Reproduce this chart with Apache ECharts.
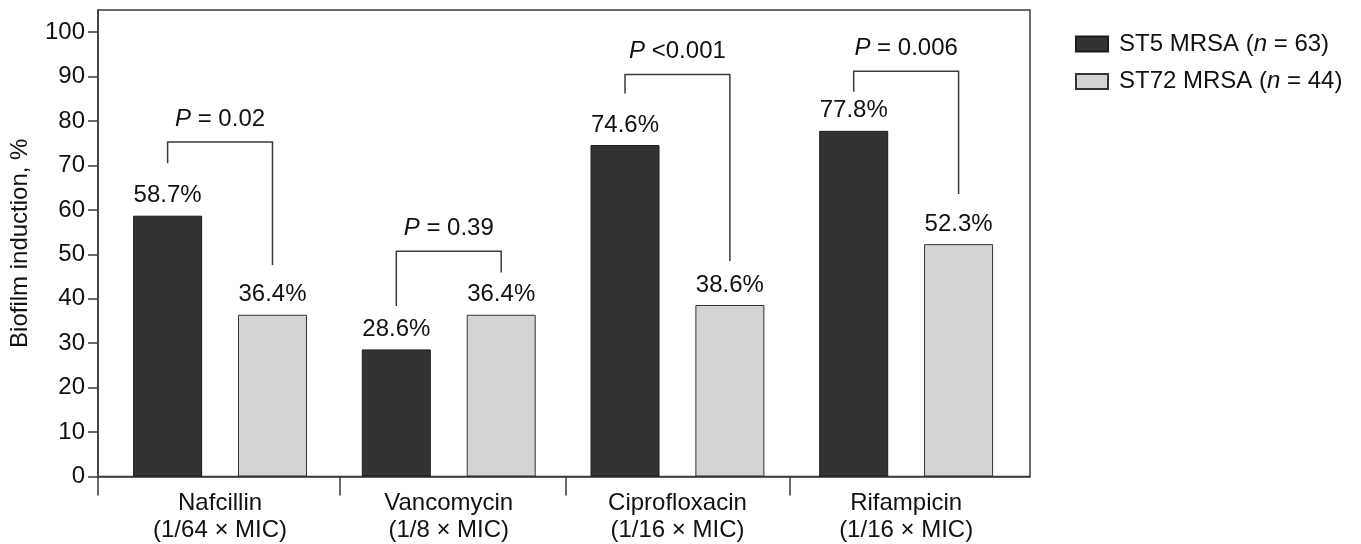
<!DOCTYPE html>
<html>
<head>
<meta charset="utf-8">
<script src="https://cdn.jsdelivr.net/npm/echarts@6/dist/echarts.min.js"></script>
<style>
html,body{margin:0;padding:0;background:#fff;}
#chart{width:1361px;height:544px;}
</style>
</head>
<body>
<div id="chart"></div>
<script>
// ---- data ----
const categories = ['Nafcillin\n(1/64 × MIC)', 'Vancomycin\n(1/8 × MIC)', 'Ciprofloxacin\n(1/16 × MIC)', 'Rifampicin\n(1/16 × MIC)'];
const seriesNames = ['ST5 MRSA', 'ST72 MRSA'];
const nValues = [63, 44];
const st5Values = [58.7, 28.6, 74.6, 77.8];
const st72Values = [36.4, 36.4, 38.6, 52.3];
const yTicks = [0, 10, 20, 30, 40, 50, 60, 70, 80, 90, 100];
// category-boundary tick positions (in category units)
const xTickPositions = [-0.538, 0.52, 1.51, 2.49];
// significance brackets: bracket top, left leg bottom, right leg bottom (per category)
const bracketTop = [75.3, 50.7, 90.5, 91.2];
const bracketLeftEnd = [70.5, 38.4, 86.2, 86.6];
const bracketRightEnd = [47.6, 45.9, 48.5, 63.6];
const pLabels = ['P = 0.02', 'P = 0.39', 'P <0.001', 'P = 0.006'];

// ---- style ----
const FONT = '"Liberation Sans", Arial, Helvetica, sans-serif';
const FS = 24;
const TXT = '#111';
const AX = '#3a3a3a';
const BAR_W = 69;
const BAR_GAP = 0.52;

const chart = echarts.init(document.getElementById('chart'), null, {renderer: 'canvas'});

const bracketData = categories.map((c, i) => [i, bracketTop[i], bracketLeftEnd[i], bracketRightEnd[i]]);

const option = {
  backgroundColor: '#fff',
  animation: false,
  textStyle: {fontFamily: FONT},
  legend: {
    orient: 'vertical',
    left: 1070,
    top: 27,
    itemWidth: 32,
    itemHeight: 15,
    itemGap: 13.5,
    icon: 'rect',
    data: seriesNames,
    formatter: function (name) {
      const k = seriesNames.indexOf(name);
      return name + ' ({i|n} = ' + nValues[k] + ')';
    },
    textStyle: {
      fontFamily: FONT, fontSize: FS, color: TXT, lineHeight: 23, padding: [0, 0, 0, 6],
      rich: {i: {fontStyle: 'italic', fontFamily: FONT, fontSize: FS, color: TXT}}
    }
  },
  grid: [
    {left: 97, right: 331, top: 10, bottom: 67.5, show: true, borderColor: AX, borderWidth: 1.5, backgroundColor: 'transparent'},
    {left: 105.7, right: 340.5, top: 10, bottom: 67.5}
  ],
  xAxis: [
    {
      type: 'value', gridIndex: 0, min: -0.538, max: 3.541,
      splitLine: {show: false},
      axisLine: {show: true, onZero: false, lineStyle: {color: AX, width: 1.5}},
      axisTick: {show: true, inside: false, length: 19, lineStyle: {color: AX, width: 1.5}, customValues: xTickPositions},
      axisLabel: {show: false}
    },
    {
      type: 'category', gridIndex: 1, data: categories,
      axisLine: {show: false},
      axisTick: {show: false},
      axisLabel: {fontFamily: FONT, fontSize: FS, color: TXT, lineHeight: 27, margin: 13, interval: 0}
    }
  ],
  yAxis: [
    {
      type: 'value', gridIndex: 0, min: 0, max: 105, interval: 10,
      name: 'Biofilm induction, %', nameLocation: 'middle', nameGap: 66, nameRotate: 90,
      nameTextStyle: {fontFamily: FONT, fontSize: FS, color: TXT},
      splitLine: {show: false},
      axisLine: {show: true, onZero: false, lineStyle: {color: AX, width: 1.5}},
      axisTick: {show: true, length: 10, lineStyle: {color: AX, width: 1.5}, customValues: yTicks},
      axisLabel: {fontFamily: FONT, fontSize: FS, color: TXT, margin: 13, customValues: yTicks}
    },
    {
      type: 'value', gridIndex: 1, min: 0, max: 105, show: false, splitLine: {show: false}
    }
  ],
  series: [
    {
      name: seriesNames[0], type: 'bar', xAxisIndex: 1, yAxisIndex: 1,
      data: st5Values, barWidth: BAR_W, barGap: (BAR_GAP * 100) + '%',
      itemStyle: {color: '#333333', borderColor: '#1a1a1a', borderWidth: 1},
      label: {show: true, position: 'top', distance: 8, fontFamily: FONT, fontSize: FS, color: TXT,
        formatter: p => p.value.toFixed(1) + '%'}
    },
    {
      name: seriesNames[1], type: 'bar', xAxisIndex: 1, yAxisIndex: 1,
      data: st72Values, barWidth: BAR_W, barGap: (BAR_GAP * 100) + '%',
      itemStyle: {color: '#d3d3d3', borderColor: '#333333', borderWidth: 1},
      label: {show: true, position: 'top', distance: 8, fontFamily: FONT, fontSize: FS, color: TXT,
        formatter: p => p.value.toFixed(1) + '%'}
    },
    {
      type: 'custom', xAxisIndex: 1, yAxisIndex: 1, silent: true, z: 5,
      data: bracketData,
      renderItem: function (params, api) {
        const c = api.value(0);
        const top = api.coord([c, api.value(1)]);
        const lb = api.coord([c, api.value(2)]);
        const rb = api.coord([c, api.value(3)]);
        const off = (BAR_W + BAR_W * BAR_GAP) / 2;
        const cx = top[0];
        const lbl = pLabels[params.dataIndex].replace(/^P/, '{i|P}');
        return {
          type: 'group',
          children: [
            {
              type: 'polyline',
              shape: {points: [[cx - off, lb[1]], [cx - off, top[1]], [cx + off, top[1]], [cx + off, rb[1]]]},
              style: {stroke: AX, lineWidth: 1.5, fill: null}
            },
            {
              type: 'text',
              style: {
                text: lbl, x: cx, y: top[1] - 23, align: 'center', verticalAlign: 'middle',
                fontFamily: FONT, fontSize: FS, fill: TXT,
                rich: {i: {fontStyle: 'italic', fontFamily: FONT, fontSize: FS, fill: TXT}}
              }
            }
          ]
        };
      }
    }
  ]
};
chart.setOption(option);
</script>
</body>
</html>
